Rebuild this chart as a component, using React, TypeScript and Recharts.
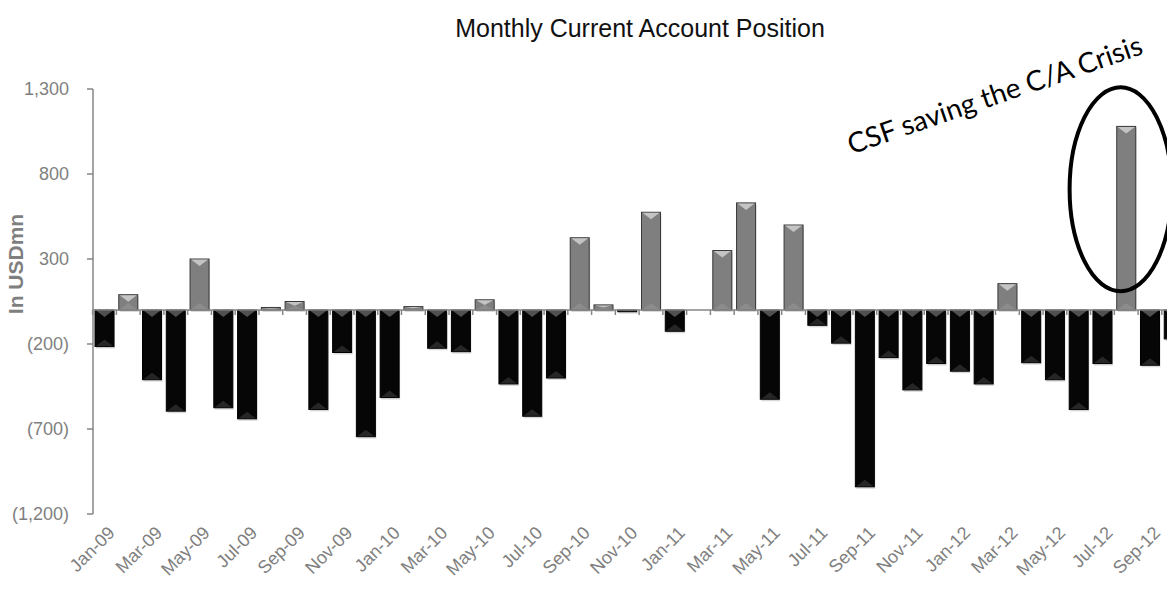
import React from 'react';
import { BarChart, Bar, XAxis, YAxis, ReferenceLine, ReferenceDot } from 'recharts';

const months = [
  'Jan-09', 'Feb-09', 'Mar-09', 'Apr-09', 'May-09', 'Jun-09', 'Jul-09', 'Aug-09', 'Sep-09', 'Oct-09', 'Nov-09', 'Dec-09',
  'Jan-10', 'Feb-10', 'Mar-10', 'Apr-10', 'May-10', 'Jun-10', 'Jul-10', 'Aug-10', 'Sep-10', 'Oct-10', 'Nov-10', 'Dec-10',
  'Jan-11', 'Feb-11', 'Mar-11', 'Apr-11', 'May-11', 'Jun-11', 'Jul-11', 'Aug-11', 'Sep-11', 'Oct-11', 'Nov-11', 'Dec-11',
  'Jan-12', 'Feb-12', 'Mar-12', 'Apr-12', 'May-12', 'Jun-12', 'Jul-12', 'Aug-12', 'Sep-12', 'Oct-12',
];

// USD mn
const currentAccount = [
  -215, 90, -410, -595, 300, -575, -640, 15, 50, -585, -250, -745,
  -515, 20, -225, -245, 60, -435, -625, -400, 425, 30, -10, 575,
  -125, 0, 350, 630, -525, 500, -90, -195, -1040, -280, -470, -315,
  -360, -435, 155, -310, -410, -585, -315, 1080, -325, -170,
];

const yTicks = [-1200, -700, -200, 300, 800, 1300];

const data = months.map((m, i) => ({ month: m, value: currentAccount[i] }));

const FONT = '"Liberation Sans", Arial, sans-serif';
const SLOT = 1093 / 46;

const fmt = (v: number) => {
  const s = Math.abs(v).toLocaleString('en-US');
  return v < 0 ? `(${s})` : s;
};

// Excel style bevelled bar
const BevelBar = (props: any) => {
  const { x, y, width, height, value } = props;
  const pos = value >= 0;
  const y0 = Math.min(y, y + height);
  const y1 = Math.max(y, y + height);
  const h = y1 - y0;
  const base = pos ? y1 : y0;
  const tickX = x - (SLOT - width) / 2;
  const bev = Math.min(7, h / 2);
  if (h < 0.5) {
    return <line x1={tickX} x2={tickX} y1={base} y2={base + 5} stroke="#868686" strokeWidth={1.5} />;
  }
  return (
    <g>
      <rect x={x + 1} y={y0 + 2} width={width} height={h} fill="#000" opacity={0.15} />
      <rect
        x={x}
        y={y0}
        width={width}
        height={h}
        fill={pos ? '#7f7f7f' : '#060606'}
        stroke={pos ? '#3a3a3a' : '#000'}
        strokeWidth={1}
      />
      <polygon
        points={`${x + 1},${y0 + 0.5} ${x + width - 1},${y0 + 0.5} ${x + width / 2},${y0 + bev}`}
        fill={pos ? '#c4c4c4' : '#505050'}
      />
      <polygon
        points={`${x + 1},${y1 - 0.5} ${x + width - 1},${y1 - 0.5} ${x + width / 2},${y1 - bev}`}
        fill={pos ? '#8c8c8c' : '#262626'}
      />
      <line x1={tickX} x2={tickX} y1={base} y2={base + 5} stroke="#868686" strokeWidth={1.5} />
    </g>
  );
};

const MonthTick = (props: any) => {
  const { x, y, payload } = props;
  const tx = x + 11;
  const ty = y + 12;
  return (
    <text
      x={tx}
      y={ty}
      textAnchor="end"
      fill="#7f7f7f"
      fontSize={18}
      fontFamily={FONT}
      transform={`rotate(-45, ${tx}, ${ty})`}
    >
      {payload.value}
    </text>
  );
};

const Ring = (props: any) => {
  const { cx, cy } = props;
  return <ellipse cx={cx - 6} cy={cy} rx={51} ry={102} fill="none" stroke="#000" strokeWidth={4} />;
};

export default function App() {
  return (
    <div style={{ position: 'absolute', left: 0, top: 0, width: 1167, height: 589, overflow: 'hidden', background: '#fff' }}>
      <div
        style={{
          position: 'absolute',
          top: 14,
          left: 340,
          width: 600,
          textAlign: 'center',
          fontFamily: FONT,
          fontSize: 25,
          color: '#111',
        }}
      >
        Monthly Current Account Position
      </div>
      <BarChart
        width={1186}
        height={589}
        data={data}
        margin={{ top: 89, right: 0, left: 0, bottom: 0 }}
        barSize={19}
      >
        <XAxis
          dataKey="month"
          interval={1}
          axisLine={false}
          tickLine={false}
          height={75}
          tick={<MonthTick />}
        />
        <YAxis
          width={93}
          domain={[-1200, 1300]}
          ticks={yTicks}
          tickFormatter={fmt}
          axisLine={{ stroke: '#868686', strokeWidth: 1.5 }}
          tickLine={{ stroke: '#868686', strokeWidth: 1.5 }}
          tickSize={6}
          tickMargin={18}
          tick={{ fill: '#7f7f7f', fontSize: 18, fontFamily: FONT }}
          label={{
            content: () => (
              <text
                x={23}
                y={264}
                textAnchor="middle"
                fill="#7f7f7f"
                fontSize={21}
                fontWeight="bold"
                fontFamily={FONT}
                transform="rotate(-90, 23, 264)"
              >
                In USDmn
              </text>
            ),
          }}
        />
        <ReferenceLine y={0} stroke="#868686" strokeWidth={1.5} />
        <Bar dataKey="value" shape={<BevelBar />} isAnimationActive={false} />
        <ReferenceDot x="Aug-12" y={710} shape={<Ring />} />
      </BarChart>
      <svg style={{ position: 'absolute', left: 0, top: 0 }} width={1167} height={589} pointerEvents="none">
        <text
          x={998}
          y={104}
          textAnchor="middle"
          fontFamily="Lato, 'Open Sans', sans-serif"
          fontSize={28}
          fill="#000"
          transform="rotate(-19, 998, 104)"
        >
          CSF saving the C/A Crisis
        </text>
      </svg>
    </div>
  );
}
